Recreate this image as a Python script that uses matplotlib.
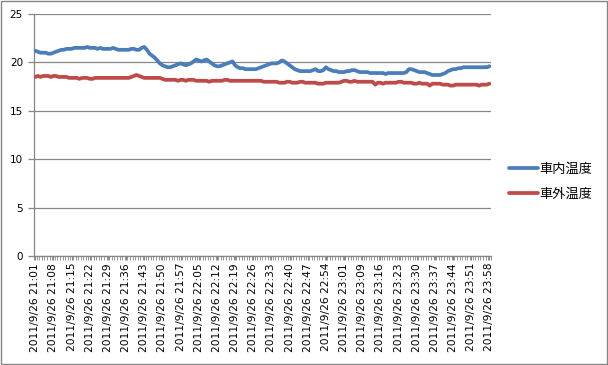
import matplotlib
matplotlib.use("Agg")
import matplotlib.pyplot as plt
from matplotlib.patches import Rectangle

plt.rcParams['font.family'] = ['DejaVu Sans', 'Noto Sans CJK JP']

series_names = ["車内温度", "車外温度"]

inside_temp = [
    21.2, 21.1, 21.0, 21.0, 21.0, 20.9, 20.9, 21.0, 21.1, 21.2,
    21.3, 21.3, 21.4, 21.4, 21.4, 21.5, 21.5, 21.5, 21.5, 21.5,
    21.6, 21.5, 21.5, 21.5, 21.4, 21.5, 21.4, 21.4, 21.4, 21.4,
    21.5, 21.4, 21.3, 21.3, 21.3, 21.3, 21.3, 21.4, 21.4, 21.3,
    21.3, 21.5, 21.6, 21.3, 20.9, 20.7, 20.5, 20.2, 19.9, 19.7,
    19.6, 19.5, 19.5, 19.6, 19.7, 19.8, 19.9, 19.8, 19.7, 19.8,
    19.9, 20.1, 20.3, 20.2, 20.1, 20.2, 20.3, 20.1, 19.9, 19.7,
    19.6, 19.6, 19.7, 19.8, 19.9, 20.0, 20.1, 19.7, 19.5, 19.4,
    19.4, 19.3, 19.3, 19.3, 19.3, 19.3, 19.4, 19.5, 19.6, 19.7,
    19.8, 19.9, 19.9, 19.9, 20.0, 20.2, 20.1, 19.9, 19.7, 19.5,
    19.3, 19.2, 19.1, 19.1, 19.1, 19.1, 19.1, 19.2, 19.3, 19.1,
    19.1, 19.2, 19.5, 19.3, 19.2, 19.1, 19.1, 19.0, 19.0, 19.0,
    19.1, 19.1, 19.2, 19.2, 19.1, 19.0, 19.0, 19.0, 19.0, 18.9,
    18.9, 18.9, 18.9, 18.9, 18.9, 18.8, 18.9, 18.9, 18.9, 18.9,
    18.9, 18.9, 18.9, 19.0, 19.3, 19.3, 19.2, 19.1, 19.0, 19.0,
    19.0, 18.9, 18.8, 18.7, 18.7, 18.7, 18.7, 18.8, 18.9, 19.1,
    19.2, 19.3, 19.3, 19.4, 19.4, 19.5, 19.5, 19.5, 19.5, 19.5,
    19.5, 19.5, 19.5, 19.5, 19.5, 19.6,
]

outside_temp = [
    18.5, 18.6, 18.5, 18.6, 18.6, 18.6, 18.5, 18.6, 18.6, 18.5,
    18.5, 18.5, 18.5, 18.4, 18.4, 18.4, 18.4, 18.3, 18.4, 18.4,
    18.4, 18.3, 18.3, 18.4, 18.4, 18.4, 18.4, 18.4, 18.4, 18.4,
    18.4, 18.4, 18.4, 18.4, 18.4, 18.4, 18.4, 18.5, 18.6, 18.7,
    18.6, 18.5, 18.4, 18.4, 18.4, 18.4, 18.4, 18.4, 18.4, 18.3,
    18.2, 18.2, 18.2, 18.2, 18.2, 18.1, 18.2, 18.2, 18.1, 18.2,
    18.2, 18.2, 18.1, 18.1, 18.1, 18.1, 18.1, 18.0, 18.1, 18.1,
    18.1, 18.1, 18.1, 18.2, 18.2, 18.1, 18.1, 18.1, 18.1, 18.1,
    18.1, 18.1, 18.1, 18.1, 18.1, 18.1, 18.1, 18.1, 18.0, 18.0,
    18.0, 18.0, 18.0, 18.0, 17.9, 17.9, 17.9, 18.0, 18.0, 17.9,
    17.9, 17.9, 18.0, 18.0, 17.9, 17.9, 17.9, 17.9, 17.9, 17.8,
    17.8, 17.8, 17.9, 17.9, 17.9, 17.9, 17.9, 17.9, 18.0, 18.1,
    18.1, 18.0, 18.0, 18.1, 18.0, 18.0, 18.0, 18.0, 18.0, 18.0,
    18.0, 17.7, 17.9, 17.9, 17.8, 17.9, 17.9, 17.9, 17.9, 17.9,
    18.0, 18.0, 17.9, 17.9, 17.9, 17.9, 17.8, 17.8, 17.9, 17.8,
    17.8, 17.8, 17.6, 17.8, 17.8, 17.8, 17.8, 17.7, 17.7, 17.7,
    17.6, 17.6, 17.7, 17.7, 17.7, 17.7, 17.7, 17.7, 17.7, 17.7,
    17.7, 17.6, 17.7, 17.7, 17.7, 17.8,
]

tick_labels = [
    "2011/9/26 21:01", "2011/9/26 21:08", "2011/9/26 21:15", "2011/9/26 21:22",
    "2011/9/26 21:29", "2011/9/26 21:36", "2011/9/26 21:43", "2011/9/26 21:50",
    "2011/9/26 21:57", "2011/9/26 22:05", "2011/9/26 22:12", "2011/9/26 22:19",
    "2011/9/26 22:26", "2011/9/26 22:33", "2011/9/26 22:40", "2011/9/26 22:47",
    "2011/9/26 22:54", "2011/9/26 23:01", "2011/9/26 23:09", "2011/9/26 23:16",
    "2011/9/26 23:23", "2011/9/26 23:30", "2011/9/26 23:37", "2011/9/26 23:44",
    "2011/9/26 23:51", "2011/9/26 23:58",
]

y_ticks = [0, 5, 10, 15, 20, 25]

n = len(inside_temp)
xs = list(range(n))

W, H = 608, 365
fig = plt.figure(figsize=(W / 100, H / 100), dpi=100)
ax = fig.add_axes([34 / W, 1 - 256 / H, (490.7 - 34) / W, (256 - 14) / H])

grid_c = "#868686"
ax.plot(xs, inside_temp, color="#4A7EBB", lw=2.7, solid_capstyle="round",
        solid_joinstyle="round", label=series_names[0], zorder=3)
ax.plot(xs, outside_temp, color="#BE4B48", lw=2.7, solid_capstyle="round",
        solid_joinstyle="round", label=series_names[1], zorder=3)

ax.set_xlim(-0.5, n - 0.5)
ax.set_ylim(0, 25)
ax.set_yticks(y_ticks)
ax.yaxis.grid(True, color=grid_c, lw=0.9)
ax.set_axisbelow(True)

for s in ["top", "right"]:
    ax.spines[s].set_visible(False)
for s in ["left", "bottom"]:
    ax.spines[s].set_color(grid_c)
    ax.spines[s].set_linewidth(0.9)

ax.tick_params(axis="y", direction="out", length=4, color=grid_c, width=0.9,
               labelsize=7.5, pad=4)
label_pos = list(range(0, n, 7))[:len(tick_labels)]
ax.set_xticks(label_pos)
ax.set_xticklabels(tick_labels, rotation=90, fontsize=7.7, va="top", ha="center")
ax.set_xticks([i - 0.5 for i in range(n + 1)], minor=True)
ax.tick_params(axis="x", which="major", length=3, color=grid_c, width=0.8, pad=2)
ax.tick_params(axis="x", which="minor", length=3, color=grid_c, width=0.6)

leg = fig.legend(loc="center left", bbox_to_anchor=(509 / W, 1 - 182 / H),
                 frameon=False, prop={"family": ["Noto Sans CJK JP"], "size": 9.5},
                 handlelength=2.2, handletextpad=0.1, labelspacing=0.9,
                 borderpad=0, borderaxespad=0)
for line in leg.get_lines():
    line.set_linewidth(2.7)

fig.patches.append(Rectangle((0.5 / W, 1.5 / H), 1 - 1.5 / W, 1 - 2.5 / H,
                             transform=fig.transFigure, fill=False,
                             edgecolor=grid_c, lw=1.0))

fig.savefig("out.png", dpi=100)
